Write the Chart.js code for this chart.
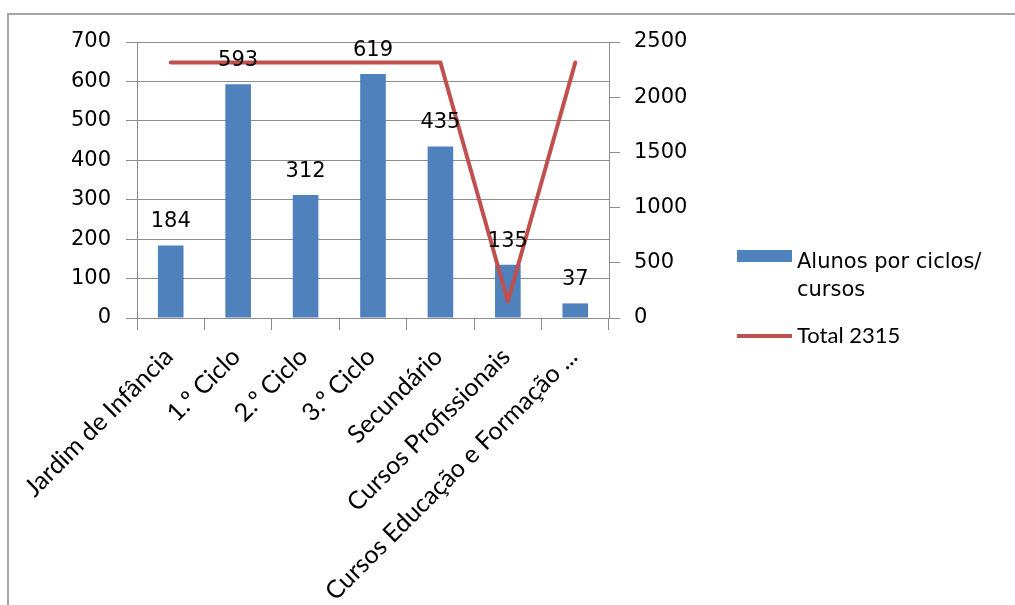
<!DOCTYPE html>
<html>
<head>
<meta charset="utf-8">
<script src="https://cdn.jsdelivr.net/npm/chart.js@4"></script>
<style>
  html, body { margin: 0; padding: 0; background: #fff; }
  #wrap { width: 1015px; height: 605px; }
</style>
</head>
<body>
<div id="wrap"><canvas id="combo" width="1015" height="605"></canvas></div>
<script>
const categorias = ['Jardim de Infância', '1.º Ciclo', '2.º Ciclo', '3.º Ciclo', 'Secundário', 'Cursos Profissionais', 'Cursos Educação e Formação ...'];
const alunos = [184, 593, 312, 619, 435, 135, 37];
const total = [2315, 2315, 2315, 2315, 2315, 150, 2315];
const ticksEsq = [0, 100, 200, 300, 400, 500, 600, 700];
const ticksDir = [0, 500, 1000, 1500, 2000, 2500];

const cinza = '#8c8c8c';
const numFont = { family: 'DejaVu Sans', size: 21 };
const catFont = { family: 'Lato', size: 25 };

// moldura do gráfico (só topo e esquerda ficam visíveis)
const moldura = {
  id: 'moldura',
  beforeDraw(chart) {
    const c = chart.ctx;
    c.save();
    c.strokeStyle = '#a6a6a6';
    c.lineWidth = 2;
    c.beginPath();
    c.moveTo(8, 605);
    c.lineTo(8, 14);
    c.lineTo(1015, 14);
    c.stroke();
    c.restore();
  }
};

// rótulos de valor por cima das barras
const rotulos = {
  id: 'rotulos',
  afterDatasetsDraw(chart) {
    const c = chart.ctx;
    const meta = chart.getDatasetMeta(0);
    c.save();
    c.font = '21px "DejaVu Sans"';
    c.fillStyle = '#000';
    c.textAlign = 'center';
    c.textBaseline = 'alphabetic';
    meta.data.forEach((bar, i) => {
      c.fillText(String(alunos[i]), bar.x, bar.y - 18);
    });
    c.restore();
  }
};

// legenda desenhada à direita
const legenda = {
  id: 'legenda',
  afterDraw(chart) {
    const c = chart.ctx;
    const ds = chart.data.datasets;
    c.save();
    c.fillStyle = ds[0].backgroundColor;
    c.fillRect(737, 250, 55, 12);
    c.fillStyle = '#000';
    c.font = '21px "DejaVu Sans"';
    c.textBaseline = 'alphabetic';
    c.fillText(ds[0].label[0], 797, 268);
    c.fillText(ds[0].label[1], 797, 296);
    c.strokeStyle = ds[1].borderColor;
    c.lineWidth = 4;
    c.beginPath();
    c.moveTo(737, 336);
    c.lineTo(792, 336);
    c.stroke();
    c.font = '22px Lato';
    c.fillText(ds[1].label, 797, 343);
    c.restore();
  }
};

new Chart(document.getElementById('combo'), {
  type: 'bar',
  data: {
    labels: categorias,
    datasets: [{
      label: ['Alunos por ciclos/', 'cursos'],
      data: alunos,
      backgroundColor: '#4f81bd',
      yAxisID: 'y',
      barPercentage: 0.38,
      categoryPercentage: 1,
      order: 2
    }, {
      type: 'line',
      label: 'Total 2315',
      data: total,
      borderColor: '#c0504d',
      borderWidth: 4,
      borderJoinStyle: 'round',
      borderCapStyle: 'round',
      pointRadius: 0,
      tension: 0,
      yAxisID: 'y1',
      order: 1
    }]
  },
  plugins: [moldura, rotulos, legenda],
  options: {
    responsive: false,
    animation: false,
    layout: { padding: { top: 42, left: 0, right: 0, bottom: 0 } },
    plugins: {
      legend: { display: false },
      tooltip: { enabled: false }
    },
    scales: {
      x: {
        offset: true,
        grid: { offset: true, drawOnChartArea: false, tickLength: 12, color: cinza },
        border: { color: cinza },
        ticks: { autoSkip: false, maxRotation: 45, minRotation: 45, font: catFont, color: '#000', padding: 12, labelOffset: -2 },
        afterFit(s) { s.height = 287; }
      },
      y: {
        min: 0,
        max: 700,
        afterBuildTicks(s) { s.ticks = ticksEsq.map(v => ({ value: v })); },
        grid: { color: cinza, tickLength: 11 },
        border: { color: cinza },
        ticks: { font: numFont, color: '#000', padding: 15 },
        afterFit(s) { s.width = 137; }
      },
      y1: {
        position: 'right',
        min: 0,
        max: 2500,
        afterBuildTicks(s) { s.ticks = ticksDir.map(v => ({ value: v })); },
        grid: { drawOnChartArea: false, color: cinza, tickLength: 11 },
        border: { color: cinza },
        ticks: { font: numFont, color: '#000', padding: 14, callback: v => String(v) },
        afterFit(s) { s.width = 406; }
      }
    }
  }
});
</script>
</body>
</html>
